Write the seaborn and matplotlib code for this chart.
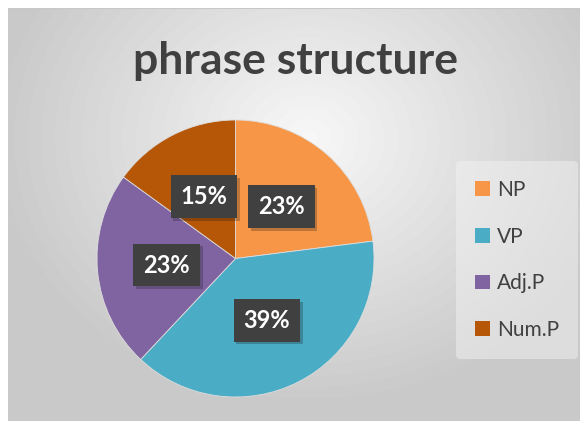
import matplotlib
matplotlib.use("Agg")
import matplotlib.pyplot as plt
import matplotlib.patheffects as pe
from matplotlib.patches import Patch
import numpy as np
import seaborn as sns

# chart data
categories = ["NP", "VP", "Adj.P", "Num.P"]
percents = [23, 39, 23, 15]
palette = sns.color_palette(["#F79646", "#4BACC6", "#8064A2", "#B65708"])

sns.set_theme(style="white")
plt.rcParams['font.family'] = ['Lato', 'DejaVu Sans']

fig = plt.figure(figsize=(5.8, 4.21), dpi=100)
fig.patch.set_facecolor("white")

# radial gradient background
bg = fig.add_axes([8/580, 0, 572/580, 413/421])
yy, xx = np.mgrid[0:413, 0:572]
d = np.sqrt(((xx - 300) / 330.0) ** 2 + ((yy - 130) / 280.0) ** 2)
shade = np.clip(0.97 - 0.19 * d, 0.79, 0.97)
bg.imshow(shade, cmap="gray", vmin=0, vmax=1, aspect="auto")
bg.axhline(0, color="#c8c8c8", lw=1.5)
bg.set_axis_off()

# pie
ax = fig.add_axes([97/580, (421-397)/421, 277/580, 277/421])
wedges, texts, autotexts = ax.pie(
    percents, colors=palette, startangle=90, counterclock=False,
    autopct=lambda p: f"{p:.0f}%", pctdistance=0.5,
    wedgeprops=dict(linewidth=0.6, edgecolor="#dddddd"),
    textprops=dict(color="white", fontsize=17, fontweight="bold"))
for t in autotexts:
    t.set_bbox(dict(boxstyle="square,pad=0.42", facecolor="#404040",
                    edgecolor="none", linewidth=0,
                    path_effects=[pe.SimplePatchShadow(offset=(2, -2), alpha=0.25),
                                  pe.Normal()]))
ax.set_xlim(-1, 1)
ax.set_ylim(-1, 1)
ax.set_aspect("equal")

fig.text(0.51, 0.855, "phrase structure", ha="center", va="center",
         fontsize=32, fontweight="bold", color="#404040")

handles = [Patch(facecolor=c, edgecolor="none") for c in palette]
leg = fig.legend(handles, categories, loc="center left",
                 bbox_to_anchor=(446/580, 1 - 260/421), frameon=True,
                 fontsize=15, labelcolor="#404040", handlelength=0.7,
                 handleheight=0.7, handletextpad=0.35, labelspacing=1.28,
                 borderpad=0.9)
leg.get_frame().set_facecolor("#f2f2f2")
leg.get_frame().set_alpha(0.5)
leg.get_frame().set_edgecolor("none")

fig.savefig("out.png", dpi=100)
